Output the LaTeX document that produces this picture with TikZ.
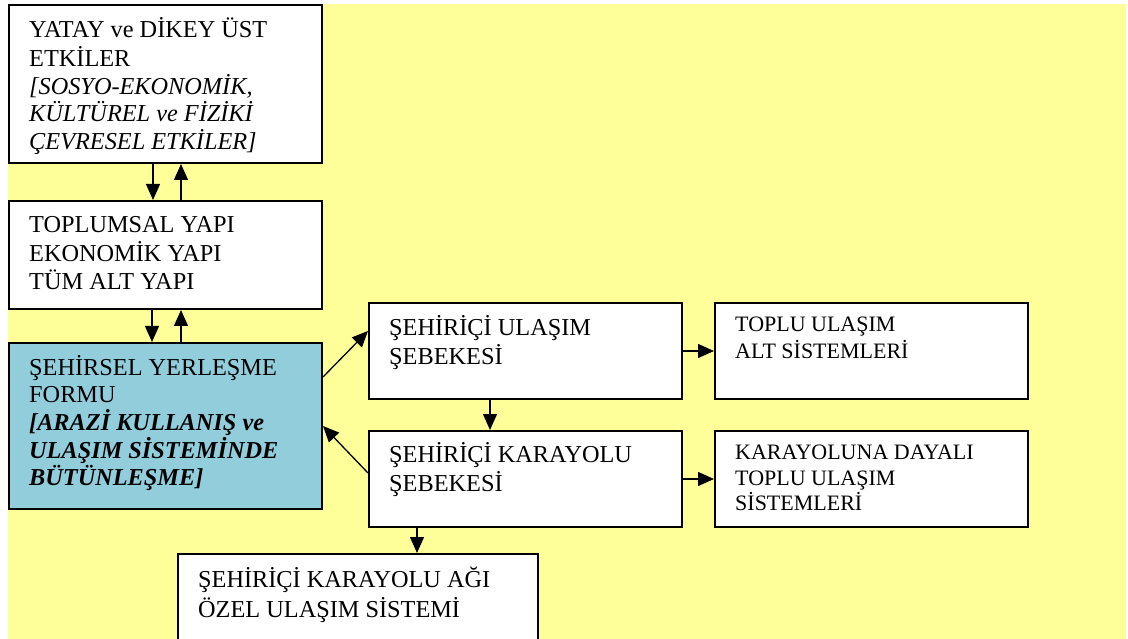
\documentclass[tikz,border=0pt]{standalone}
\usepackage{fontspec}
\setmainfont{Liberation Serif}
\usetikzlibrary{positioning,arrows.meta}
\definecolor{zemin}{HTML}{FFFF99}
\definecolor{mavi}{HTML}{92CDDC}

\begin{document}
\begin{tikzpicture}
  [x=1pt,y=-1pt,
   box/.style={draw,line width=2pt,fill=white,anchor=north west,inner sep=0pt},
   txt/.style={inner sep=0pt,align=left,font=\fontsize{24.3}{27.6}\selectfont},
   ktxt/.style={txt,font=\fontsize{22}{25.3}\selectfont},
   arr/.style={-{Triangle[length=16pt,width=14pt]},line width=1.3pt}]
  \clip (0,0) rectangle (1128,639);
  \fill[zemin] (8,4) rectangle (1126,639);

  % kutular
  \node[box,minimum width=313pt,minimum height=158pt] (ust) at (8,4) {};
  \node[box,minimum width=313pt,minimum height=108pt] (yapi) at (8,200) {};
  \node[box,fill=mavi,minimum width=313pt,minimum height=166pt] (form) at (8,342) {};
  \node[box,minimum width=313pt,minimum height=96pt] (ulasim) at (368,302) {};
  \node[box,minimum width=313pt,minimum height=96pt] (kara) at (368,430) {};
  \node[box,minimum width=313pt,minimum height=96pt] (toplu) at (714,302) {};
  \node[box,minimum width=313pt,minimum height=96pt] (dayali) at (714,430) {};
  \node[box,minimum width=360pt,minimum height=130pt] (ozel) at (177,553) {};

  % metinler
  \node[txt,below right=13pt and 21pt of ust.north west] (ust-t)
    {\strut YATAY ve DİKEY ÜST\\ETKİLER\\
     \textit{[SOSYO-EKONOMİK,}\\\textit{KÜLTÜREL ve FİZİKİ}\\\textit{ÇEVRESEL ETKİLER]}};
  \node[txt,below right=13pt and 21pt of yapi.north west] (yapi-t)
    {\strut TOPLUMSAL YAPI\\EKONOMİK YAPI\\TÜM ALT YAPI};
  \node[txt,below right=13pt and 21pt of form.north west] (form-t)
    {\strut ŞEHİRSEL YERLEŞME\\FORMU\\
     \textbf{\textit{[ARAZİ KULLANIŞ ve}}\\\textbf{\textit{ULAŞIM SİSTEMİNDE}}\\\textbf{\textit{BÜTÜNLEŞME]}}};
  \node[txt,below right=13pt and 21pt of ulasim.north west] (ulasim-t)
    {\strut ŞEHİRİÇİ ULAŞIM\\ŞEBEKESİ};
  \node[txt,below right=12pt and 21pt of kara.north west] (kara-t)
    {\strut ŞEHİRİÇİ KARAYOLU\\ŞEBEKESİ};
  \node[ktxt,below right=12pt and 21pt of toplu.north west] (toplu-t)
    {\strut TOPLU ULAŞIM\\ALT SİSTEMLERİ};
  \node[ktxt,below right=12pt and 21pt of dayali.north west] (dayali-t)
    {\strut KARAYOLUNA DAYALI\\TOPLU ULAŞIM\\SİSTEMLERİ};
  \node[txt,below right=14pt and 21pt of ozel.north west] (ozel-t)
    {\strut ŞEHİRİÇİ KARAYOLU AĞI\\ÖZEL ULAŞIM SİSTEMİ};

  % oklar
  \draw[arr] ([xshift=-12.5pt]ust.south) -- ([xshift=-12.5pt]yapi.north);
  \draw[arr] ([xshift=15.5pt]yapi.north) -- ([xshift=15.5pt]ust.south);
  \draw[arr] ([xshift=-13.5pt]yapi.south) -- ([xshift=-13.5pt]form.north);
  \draw[arr] ([xshift=15.5pt]form.north) -- ([xshift=15.5pt]yapi.south);
  \draw[arr] ([yshift=49pt]form.east) -- ([yshift=20pt]ulasim.west);
  \draw[arr] ([yshift=6pt]kara.west) -- (form.east);
  \draw[arr] ([xshift=-35.5pt]ulasim.south) -- ([xshift=-35.5pt]kara.north);
  \foreach \from/\to in {ulasim/toplu,kara/dayali}
    \draw[arr] (\from) -- (\to);
  \coordinate (k) at ([xshift=-108.5pt]kara.south);
  \draw[arr] (k) -- (k |- ozel.north);
\end{tikzpicture}
\end{document}
